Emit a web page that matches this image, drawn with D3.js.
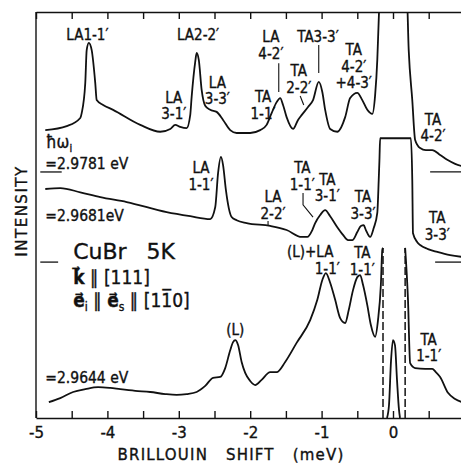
<!DOCTYPE html>
<html>
<head>
<meta charset="utf-8">
<script src="https://cdn.jsdelivr.net/npm/d3@7"></script>
<style>
  body { margin: 0; background: #fff; }
  svg text { font-family: "DejaVu Sans", sans-serif; font-stretch: condensed; fill: #111; stroke: #111; stroke-width: 0.35px; }
</style>
</head>
<body>
<div id="chart"></div>
<script>
// Brillouin spectra of CuBr at 5 K, shift in meV, intensity in arb. units above each zero line

// excitation 2.9781 eV (top trace)
var spectrumTop = [[-4.87,10.3],[-4.57,11.3],[-4.38,13.3],[-4.36,14.5],[-4.31,21.9],[-4.29,30.0],[-4.26,31.8],
  [-4.22,30.0],[-4.17,21.9],[-4.15,17.7],[-4.06,16.5],[-3.92,15.3],[-3.54,11.6],[-3.26,9.9],[-3.12,10.6],
  [-3.05,11.6],[-2.98,11.1],[-2.89,10.8],[-2.84,14.0],[-2.82,18.5],[-2.77,27.1],[-2.75,29.3],[-2.72,27.6],
  [-2.68,20.2],[-2.63,16.3],[-2.56,15.3],[-2.47,14.8],[-2.38,12.8],[-2.28,10.3],[-2.19,9.6],[-2.00,9.6],
  [-1.86,10.3],[-1.77,11.6],[-1.70,14.5],[-1.63,17.2],[-1.58,18.2],[-1.54,16.5],[-1.49,13.5],[-1.40,10.6],
  [-1.33,12.8],[-1.28,14.0],[-1.19,16.0],[-1.12,17.7],[-1.04,22.2],[-0.99,19.7],[-0.95,15.3],[-0.88,10.6],
  [-0.78,9.9],[-0.67,13.5],[-0.60,18.2],[-0.50,19.5],[-0.43,17.7],[-0.36,15.3],[-0.29,14.3],[-0.25,19.0],
  [-0.22,27.6],[-0.20,37.4],[-0.18,45],[0.19,45],[0.22,30.0],[0.27,17.7],[0.31,7.9],[0.38,5.9],[0.46,5.4],
  [0.55,5.4],[0.66,4.2],[0.76,3.0],[0.87,2.0],[1.01,1.2]];

// excitation 2.9681 eV (middle trace, recorder saturates near 0)
var spectrumMid = [[-4.87,18.0],[-4.66,18.2],[-4.38,17.2],[-4.10,16.0],[-3.73,14.8],[-3.17,12.3],[-2.84,11.3],
  [-2.56,10.6],[-2.49,13.5],[-2.45,21.9],[-2.41,25.9],[-2.38,23.9],[-2.34,17.7],[-2.30,13.3],[-2.26,11.1],
  [-2.19,10.3],[-2.05,9.6],[-1.72,8.9],[-1.49,7.9],[-1.28,6.2],[-1.20,6.2],[-1.13,7.9],[-1.09,9.6],[-1.02,11.6],
  [-0.95,12.8],[-0.88,11.3],[-0.78,8.6],[-0.70,6.7],[-0.63,5.4],[-0.57,5.4],[-0.50,7.4],[-0.45,8.9],[-0.41,9.1],
  [-0.38,7.9],[-0.32,6.2],[-0.27,8.4],[-0.22,12.1],[-0.20,20.2],[-0.19,25.1],[-0.18,30.5],[0.25,30.5],
  [0.27,20.2],[0.28,7.1],[0.34,4.9],[0.38,4.2],[0.49,3.2],[0.62,2.5],[0.80,1.7],[1.01,1.2]];

// excitation 2.9644 eV (bottom trace, blanked between the dashed lines)
var spectrumLow = [[-4.82,3.9],[-4.66,4.9],[-4.48,6.4],[-4.31,7.1],[-4.13,7.6],[-3.96,7.4],[-3.82,7.1],
  [-3.61,6.7],[-3.40,6.4],[-3.19,5.9],[-3.03,5.7],[-2.89,5.9],[-2.75,6.4],[-2.63,7.9],[-2.52,9.9],[-2.42,10.1],
  [-2.35,12.3],[-2.28,16.7],[-2.24,18.7],[-2.21,19.2],[-2.17,18.0],[-2.12,13.8],[-2.07,11.1],[-2.00,9.1],
  [-1.93,8.1],[-1.84,9.4],[-1.72,11.3],[-1.63,11.3],[-1.51,13.8],[-1.35,18.5],[-1.16,24.1],[-1.06,29.1],
  [-0.99,34.0],[-0.94,35.7],[-0.88,33.3],[-0.81,29.1],[-0.74,24.6],[-0.67,23.4],[-0.62,26.6],[-0.56,31.5],
  [-0.50,34.7],[-0.46,35.2],[-0.42,32.8],[-0.36,27.8],[-0.31,22.9],[-0.25,20.0],[-0.21,24.1],[-0.17,32.8],
  [-0.15,41.4],[-0.14,41.9],
  null,
  [0.17,41.9],[0.21,29.1],[0.24,13.5],[0.31,12.3],[0.45,12.1],[0.55,12.1],[0.60,11.3],[0.66,10.1],
  [0.77,6.2],[0.87,4.7],[1.01,3.7]];

// attenuated laser line at zero shift (bottom trace)
var laserLine = [[-0.084,0],[-0.056,3.2],[-0.028,14.0],[0,19.2],[0.028,17.9],[0.056,9.4],[0.084,2.0],[0.098,0]];

var energyLabels = ["=2.9781 eV", "=2.9681eV", "=2.9644 eV"];
var blankedRange = [-0.14, 0.17];
var xTickLabels = [-5, -4, -3, -2, -1, 0, 1];

// layout --------------------------------------------------------------
var width = 461, height = 464;
var zeroTop = 60.6, zeroMid = 38.4;

var x = d3.scaleLinear().domain([-5, 1]).range([36, 464.4]);
var y = d3.scaleLinear().domain([0, 100]).range([418, 12]);

var svg = d3.select("#chart").append("svg")
  .attr("width", width).attr("height", height);

svg.append("defs").append("clipPath").attr("id", "plotClip")
  .append("rect")
  .attr("x", x(-5)).attr("y", y(100))
  .attr("width", x(1) - x(-5)).attr("height", y(0) - y(100));

// frame + ticks
var ticks = d3.range(-5, 1.01, 0.5);

svg.append("g")
  .attr("transform", "translate(0," + y(0) + ")")
  .call(d3.axisBottom(x).tickValues(ticks).tickSize(-7).tickSizeOuter(0).tickPadding(9)
    .tickFormat(function(d){ return xTickLabels.indexOf(d) < 0 ? "" : (d < 0 ? "-" + (-d) : d); }))
  .call(function(g){
    g.selectAll("path,line").attr("stroke", "#111").attr("stroke-width", 1.4);
    g.selectAll("text").attr("font-size", 15).attr("fill", "#111")
      .style("font-family", "DejaVu Sans, sans-serif").style("font-stretch", "normal");
  });

svg.append("g")
  .attr("transform", "translate(0," + y(100) + ")")
  .call(d3.axisTop(x).tickValues(ticks).tickSize(-7).tickSizeOuter(0).tickFormat(""))
  .call(function(g){ g.selectAll("path,line").attr("stroke", "#111").attr("stroke-width", 1.4); });

svg.append("line")
  .attr("x1", x(-5)).attr("x2", x(-5)).attr("y1", y(100)).attr("y2", y(0))
  .attr("stroke", "#111").attr("stroke-width", 1.4);

// zero-level markers
[[zeroTop, [-4.94, -4.64], [0.52, 1]], [zeroMid, [-4.94, -4.69], [0.59, 1]]].forEach(function(z){
  [z[1], z[2]].forEach(function(r){
    svg.append("line")
      .attr("x1", x(r[0])).attr("x2", x(r[1])).attr("y1", y(z[0])).attr("y2", y(z[0]))
      .attr("stroke", "#111").attr("stroke-width", 1.3);
  });
});

// spectra
var plot = svg.append("g").attr("clip-path", "url(#plotClip)");

function trace(data, offset){
  var line = d3.line()
    .defined(function(d){ return d; })
    .x(function(d){ return x(d[0]); })
    .y(function(d){ return y(d[1] + offset); })
    .curve(d3.curveMonotoneX);
  plot.append("path").datum(data)
    .attr("d", line)
    .attr("fill", "none").attr("stroke", "#111")
    .attr("stroke-width", 1.8).attr("stroke-linejoin", "round");
}

trace(spectrumTop, zeroTop);
trace(spectrumMid, zeroMid);
trace(spectrumLow, 0);
trace(laserLine, 0);

blankedRange.forEach(function(v){
  plot.append("line")
    .attr("x1", x(v)).attr("x2", x(v)).attr("y1", y(0)).attr("y2", y(41.9))
    .attr("stroke", "#111").attr("stroke-width", 1.5).attr("stroke-dasharray", "8,3");
});

// peak labels [shift, height] of first line baseline
var notes = [
  {lines: ["LA1-1′"], at: [-4.28, 93.1]},
  {lines: ["LA2-2′"], at: [-2.73, 93.1]},
  {lines: ["LA", "3-1′"], at: [-3.07, 77.6]},
  {lines: ["LA", "3-3′"], at: [-2.46, 81.3]},
  {lines: ["TA", "1-1′"], at: [-1.82, 77.8]},
  {lines: ["LA", "4-2′"], at: [-1.71, 92.6]},
  {lines: ["TA", "2-2′"], at: [-1.32, 84.2]},
  {lines: ["TA3-3′"], at: [-1.05, 92.6]},
  {lines: ["TA", "4-2′", "+4-3′"], at: [-0.55, 89.4]},
  {lines: ["TA", "4-2′"], at: [0.56, 72.2]},
  {lines: ["LA", "1-1′"], at: [-2.69, 60.3]},
  {lines: ["LA", "2-2′"], at: [-1.68, 53.2]},
  {lines: ["TA", "1-1′"], at: [-1.27, 60.3]},
  {lines: ["TA", "3-1′"], at: [-0.92, 57.4]},
  {lines: ["TA", "3-3′"], at: [-0.42, 53.2]},
  {lines: ["TA", "3-3′"], at: [0.62, 48.0]},
  {lines: ["(L)+LA"], at: [-1.16, 39.6]},
  {lines: ["1-1′"], at: [-0.92, 35.5]},
  {lines: ["TA", "1-1′"], at: [-0.43, 39.4]},
  {lines: ["(L)"], at: [-2.21, 20.4]},
  {lines: ["TA", "1-1′"], at: [0.50, 18.0]}
];

notes.forEach(function(n){
  var t = svg.append("text")
    .attr("x", x(n.at[0])).attr("y", y(n.at[1]))
    .attr("text-anchor", "middle").attr("font-size", 15);
  n.lines.forEach(function(s, i){
    t.append("tspan").attr("x", x(n.at[0])).attr("dy", i ? 16.5 : 0).text(s);
  });
});

// leader lines
var leaders = [
  [[-1.60, 87.4], [-1.60, 80.3]],
  [[-1.04, 91.9], [-1.04, 85.0]],
  [[-1.30, 79.3], [-1.25, 77.1]],
  [[-1.26, 55.4], [-1.26, 52.5], [-1.12, 49.5]],
  [[-1.75, 48.5], [-1.75, 47.3]]
];
leaders.forEach(function(p){
  svg.append("path")
    .attr("d", d3.line().x(function(d){ return x(d[0]); }).y(function(d){ return y(d[1]); })(p))
    .attr("fill", "none").attr("stroke", "#111").attr("stroke-width", 1.1);
});

// excitation energies
var hw = svg.append("text").attr("x", x(-4.86)).attr("y", y(66.5)).attr("font-size", 17);
hw.append("tspan").text("ħω");
hw.append("tspan").attr("font-size", 11).attr("dy", 4).text("i");

[[61.3], [48.5], [8.6]].forEach(function(p, i){
  svg.append("text").attr("x", x(-4.87)).attr("y", y(p[0]))
    .attr("font-size", 15.5).text(energyLabels[i]);
});

// sample and geometry
svg.append("text").attr("x", x(-4.48)).attr("y", y(39.2)).attr("font-size", 22)
  .style("font-stretch", "normal")
  .text("CuBr").append("tspan").attr("dx", 20).text("5K");

var kLine = svg.append("text").attr("x", x(-4.48)).attr("y", y(33.0)).attr("font-size", 19);
kLine.append("tspan").attr("font-weight", "bold").text("k\u20D7");
kLine.append("tspan").text(" ∥ [111]");

var eLine = svg.append("text").attr("x", x(-4.48)).attr("y", y(27.3)).attr("font-size", 19);
eLine.append("tspan").attr("font-weight", "bold").text("e\u20D7");
eLine.append("tspan").attr("font-size", 12).attr("dy", 4).text("i");
eLine.append("tspan").attr("dy", -4).text(" ∥ ");
eLine.append("tspan").attr("font-weight", "bold").text("e\u20D7");
eLine.append("tspan").attr("font-size", 12).attr("dy", 4).text("s");
eLine.append("tspan").attr("dy", -4).text(" ∥ [11\u03050]");

// axis titles
svg.append("text")
  .attr("transform", "translate(" + 27 + "," + 211 + ") rotate(-90)")
  .attr("text-anchor", "middle").attr("font-size", 15)
  .style("font-stretch", "normal").style("letter-spacing", "1.5px")
  .text("INTENSITY");

svg.append("text")
  .attr("x", 231).attr("y", 460)
  .attr("text-anchor", "middle").attr("font-size", 15)
  .style("font-stretch", "normal").style("letter-spacing", "1.2px").style("white-space", "pre")
  .text("BRILLOUIN   SHIFT   (meV)");
</script>
</body>
</html>
